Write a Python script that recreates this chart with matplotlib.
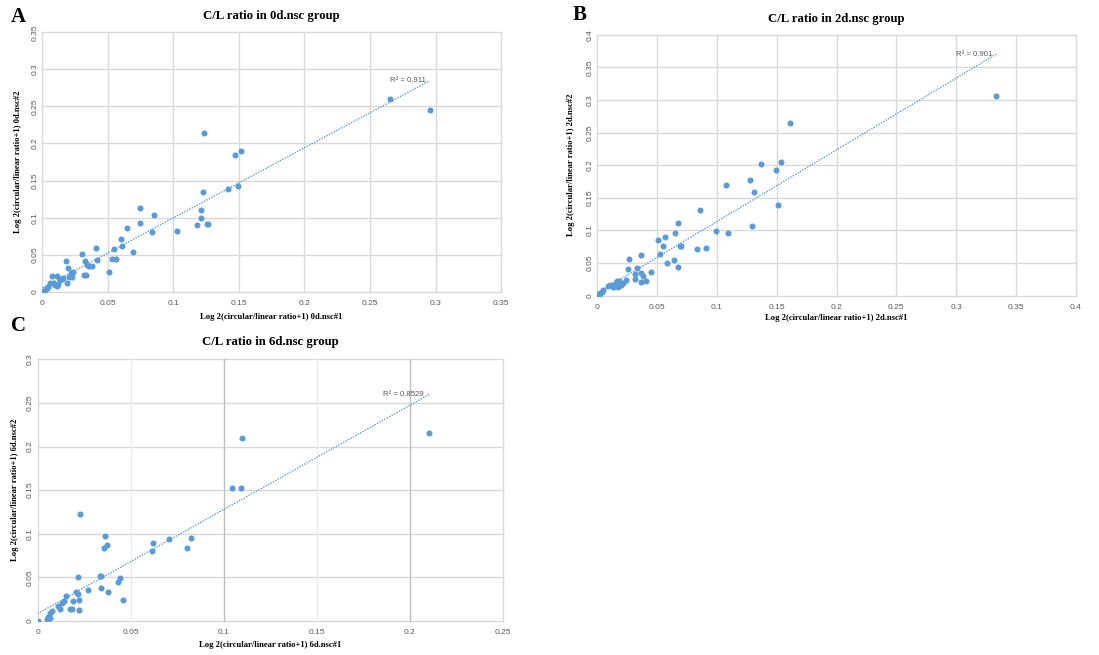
import numpy as np
import matplotlib
matplotlib.use("Agg")
import matplotlib.pyplot as plt

# ---------------- data ----------------
a_x = [0.2653, 0.2955, 0.1231, 0.1473, 0.1518, 0.1490, 0.1417, 0.1228, 0.1213, 0.1213,
       0.1180, 0.1254, 0.1267, 0.1025, 0.0745, 0.0745, 0.0852, 0.0834, 0.0643, 0.0603,
       0.0610, 0.0549, 0.0689, 0.0532, 0.0562, 0.0509, 0.0409, 0.0420, 0.0303, 0.0323,
       0.0338, 0.0376, 0.0359, 0.0318, 0.0331, 0.0178, 0.0198, 0.0071, 0.0114, 0.0237,
       0.0219, 0.0206, 0.0186, 0.0160, 0.0135, 0.0084, 0.0097, 0.0122, 0.0058, 0.0033,
       0.0013, 0.0000, 0.0046, 0.0100, 0.0110, 0.0150, 0.0220, 0.0230, 0.0090, 0.0025]
a_y = [0.2600, 0.2448, 0.2147, 0.1850, 0.1900, 0.1427, 0.1380, 0.1350, 0.1098, 0.0990,
       0.0905, 0.0918, 0.0914, 0.0819, 0.1134, 0.0927, 0.1031, 0.0801, 0.0864, 0.0707,
       0.0621, 0.0580, 0.0531, 0.0441, 0.0437, 0.0270, 0.0585, 0.0428, 0.0509, 0.0419,
       0.0360, 0.0351, 0.0342, 0.0225, 0.0230, 0.0419, 0.0324, 0.0207, 0.0212, 0.0270,
       0.0225, 0.0203, 0.0122, 0.0189, 0.0158, 0.0122, 0.0090, 0.0104, 0.0122, 0.0045,
       0.0014, 0.0000, 0.0058, 0.0110, 0.0080, 0.0170, 0.0250, 0.0200, 0.0100, 0.0030]
a_r2 = "R² = 0.911"

b_x = [0.3336, 0.1611, 0.1371, 0.1536, 0.1494, 0.1276, 0.1073, 0.1313, 0.1513, 0.1296,
       0.0856, 0.0990, 0.1093, 0.0911, 0.0833, 0.0677, 0.0652, 0.0691, 0.0702, 0.0569,
       0.0510, 0.0549, 0.0527, 0.0641, 0.0580, 0.0677, 0.0368, 0.0265, 0.0254, 0.0329,
       0.0318, 0.0368, 0.0385, 0.0404, 0.0362, 0.0318, 0.0451, 0.0237, 0.0217, 0.0190,
       0.0162, 0.0176, 0.0148, 0.0134, 0.0106, 0.0086, 0.0050, 0.0042, 0.0022, 0.0000,
       0.0014, 0.0180, 0.0200, 0.0155, 0.0120]
b_y = [0.3060, 0.2640, 0.2023, 0.2053, 0.1920, 0.1767, 0.1696, 0.1594, 0.1384, 0.1073,
       0.1308, 0.0986, 0.0960, 0.0735, 0.0715, 0.1108, 0.0965, 0.0766, 0.0766, 0.0894,
       0.0853, 0.0761, 0.0644, 0.0541, 0.0506, 0.0439, 0.0618, 0.0562, 0.0414, 0.0419,
       0.0327, 0.0352, 0.0306, 0.0225, 0.0215, 0.0255, 0.0363, 0.0240, 0.0199, 0.0179,
       0.0225, 0.0138, 0.0153, 0.0138, 0.0163, 0.0153, 0.0087, 0.0061, 0.0036, 0.0000,
       0.0010, 0.0220, 0.0170, 0.0190, 0.0160]
b_r2 = "R² = 0.901"

c_x = [0.2106, 0.1100, 0.1047, 0.1095, 0.0228, 0.0360, 0.0355, 0.0375, 0.0620, 0.0617,
       0.0708, 0.0823, 0.0801, 0.0217, 0.0337, 0.0340, 0.0444, 0.0432, 0.0269, 0.0339,
       0.0376, 0.0457, 0.0204, 0.0215, 0.0224, 0.0220, 0.0190, 0.0154, 0.0143, 0.0131,
       0.0122, 0.0111, 0.0174, 0.0185, 0.0075, 0.0066, 0.0057, 0.0052, 0.0066, 0.0000]
c_y = [0.2156, 0.2095, 0.1529, 0.1525, 0.1223, 0.0979, 0.0841, 0.0872, 0.0898, 0.0799,
       0.0937, 0.0948, 0.0841, 0.0505, 0.0520, 0.0516, 0.0489, 0.0447, 0.0352, 0.0382,
       0.0336, 0.0237, 0.0336, 0.0306, 0.0241, 0.0130, 0.0233, 0.0283, 0.0226, 0.0203,
       0.0141, 0.0168, 0.0138, 0.0134, 0.0118, 0.0088, 0.0050, 0.0023, 0.0038, 0.0000]
c_r2 = "R² = 0.8529"

titles = ["C/L ratio in 0d.nsc group", "C/L ratio in 2d.nsc group", "C/L ratio in 6d.nsc group"]
groups = ["0d", "2d", "6d"]
letters = ["A", "B", "C"]

# ---------------- style ----------------
BLUE = "#5b9bd5"
GRID = "#d9d9d9"
TICK = "#595959"
SERIF = ["Liberation Serif", "DejaVu Serif"]
SANS = ["Liberation Sans", "DejaVu Sans"]
plt.rcParams["font.family"] = SERIF

fig = plt.figure(figsize=(10.99, 6.55), dpi=100)

panels = [
    dict(x=a_x, y=a_y, r2=a_r2, rect=[0.0385, 0.5547, 0.4174, 0.3960], xmax=0.35, ymax=0.35, step=0.05,
         title_y=1 - 16 / 655, xlab_y=1 - 317 / 655, ylab_x=18 / 1099),
    dict(x=b_x, y=b_y, r2=b_r2, rect=[0.5435, 0.5486, 0.4353, 0.3984], xmax=0.40, ymax=0.40, step=0.05,
         title_y=1 - 19 / 655, xlab_y=1 - 318 / 655, ylab_x=571 / 1099),
    dict(x=c_x, y=c_y, r2=c_r2, rect=[0.0343, 0.0519, 0.4231, 0.3996], xmax=0.25, ymax=0.30, step=0.05,
         title_y=1 - 342 / 655, xlab_y=1 - 645 / 655, ylab_x=15 / 1099),
]

def fmt(v):
    s = f"{v:.2f}".rstrip("0").rstrip(".")
    return s

for i, p in enumerate(panels):
    ax = fig.add_axes(p["rect"])
    ax.set_xlim(0, p["xmax"])
    ax.set_ylim(0, p["ymax"])
    xt = np.round(np.arange(0, p["xmax"] + 1e-9, p["step"]), 2)
    yt = np.round(np.arange(0, p["ymax"] + 1e-9, p["step"]), 2)
    ax.set_xticks(xt)
    ax.set_yticks(yt)
    ax.set_xticklabels([fmt(v) for v in xt], fontsize=6, color=TICK, family=SANS)
    ax.set_yticklabels([fmt(v) for v in yt], fontsize=6, color=TICK, rotation=90, va="center",
                       family=SANS)
    ax.tick_params(axis="x", length=0, pad=6)
    ax.tick_params(axis="y", length=0, pad=3)
    for s in ax.spines.values():
        s.set_visible(False)
    # gridlines
    for v in yt:
        ax.axhline(v, color=GRID, lw=1.0, zorder=0, clip_on=False)
    for v in xt:
        col = GRID
        if i == 2:
            inner = 0 < v < p["xmax"] - 1e-9
            if inner:
                col = "#bfbfbf" if round(v * 20) % 2 == 0 else "#ececec"
        ax.axvline(v, color=col, lw=1.0, zorder=0, clip_on=False)

    x = np.array(p["x"])
    y = np.array(p["y"])
    ax.scatter(x, y, s=19, color=BLUE, zorder=3, linewidths=0)
    k, b0 = np.polyfit(x, y, 1)
    xx = np.array([0, x.max()])
    ax.plot(xx, k * xx + b0, ls=(0, (1, 1)), color=BLUE, lw=1.0, zorder=2)
    ax.text(x.max() - 0.003, k * x.max() + b0, p["r2"], fontsize=5.6, color=TICK,
            ha="right", va="center", family=SANS)

    r = p["rect"]
    cx = r[0] + r[2] / 2
    fig.text(cx, p["xlab_y"], f"Log 2(circular/linear ratio+1) {groups[i]}.nsc#1", fontsize=6.2,
             fontweight="bold", ha="center", va="center")
    fig.text(p["ylab_x"], r[1] + r[3] / 2, f"Log 2(circular/linear ratio+1) {groups[i]}.nsc#2",
             fontsize=6.2, fontweight="bold", ha="center", va="center", rotation=90)
    fig.text(cx, p["title_y"], titles[i], fontsize=9.2, fontweight="bold", ha="center", va="center")

fig.text(18 / 1099, 1 - 17 / 655, "A", fontsize=15, fontweight="bold", ha="center", va="center")
fig.text(580 / 1099, 1 - 15 / 655, "B", fontsize=15, fontweight="bold", ha="center", va="center")
fig.text(18 / 1099, 1 - 326 / 655, "C", fontsize=15, fontweight="bold", ha="center", va="center")

fig.savefig("out.png", dpi=100)
